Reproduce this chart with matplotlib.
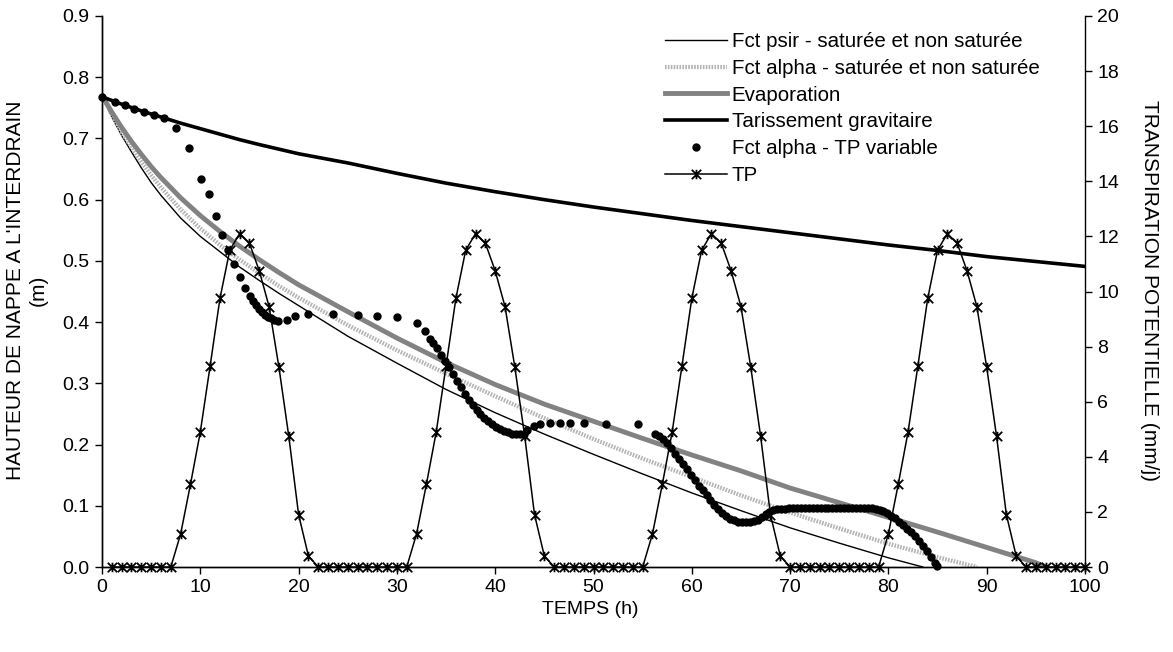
import matplotlib
matplotlib.use("Agg")
import matplotlib.pyplot as plt
import matplotlib.patheffects as pe
from matplotlib.path import Path

plt.rcParams['font.family'] = ['Liberation Sans', 'DejaVu Sans']

# --- hauteur de nappe (m) ---
t_psir = [0, 1, 2, 3, 4, 5, 6, 8, 10, 12, 14, 16, 18, 20, 25, 30, 35, 40, 45, 50,
          55, 60, 65, 70, 75, 80, 83.5]
h_psir = [0.77, 0.735, 0.705, 0.678, 0.652, 0.628, 0.607, 0.57, 0.54, 0.515, 0.49,
          0.468, 0.447, 0.427, 0.377, 0.333, 0.29, 0.252, 0.217, 0.184, 0.152, 0.121,
          0.092, 0.064, 0.039, 0.015, 0.0]

t_alpha = [0, 1, 2, 3, 4, 5, 6, 8, 10, 12, 14, 16, 18, 20, 25, 30, 35, 40, 45, 50,
           55, 60, 65, 70, 75, 80, 85, 89]
h_alpha = [0.77, 0.739, 0.711, 0.686, 0.662, 0.64, 0.62, 0.584, 0.553, 0.526, 0.502,
           0.48, 0.459, 0.44, 0.395, 0.354, 0.316, 0.279, 0.243, 0.209, 0.177, 0.147,
           0.117, 0.089, 0.063, 0.038, 0.016, 0.0]

t_evap = [0, 1, 2, 3, 4, 5, 6, 8, 10, 12, 14, 16, 18, 20, 25, 30, 35, 40, 45, 50,
          55, 60, 65, 70, 75, 80, 85, 90, 95, 96]
h_evap = [0.77, 0.743, 0.718, 0.695, 0.674, 0.654, 0.636, 0.603, 0.574, 0.548, 0.524,
          0.502, 0.481, 0.461, 0.417, 0.374, 0.334, 0.298, 0.266, 0.238, 0.21, 0.183,
          0.157, 0.129, 0.105, 0.081, 0.057, 0.032, 0.007, 0.0]

t_tar = [0, 2, 4, 6, 8, 10, 12, 14, 16, 20, 25, 30, 35, 40, 45, 50, 55, 60, 65, 70,
         75, 80, 85, 90, 95, 100]
h_tar = [0.768, 0.756, 0.745, 0.735, 0.725, 0.716, 0.707, 0.698, 0.69, 0.675, 0.66,
         0.643, 0.627, 0.613, 0.6, 0.588, 0.577, 0.566, 0.556, 0.546, 0.536, 0.526,
         0.517, 0.507, 0.499, 0.491]

# Fct alpha - TP variable (points)
t_var = [0, 1.3, 2.3, 3.3, 4.3, 5.3, 6.3, 7.5, 8.9, 10.1, 10.9, 11.6, 12.2, 12.85,
         13.4, 14.0, 14.55, 15.1, 15.4, 15.7, 16.0, 16.3, 16.6, 16.9, 17.2, 17.5,
         17.9, 18.8, 19.6, 21.0, 23.5, 26.0, 28.0, 30.0, 32.0, 32.9, 33.4,
         33.7, 34.1, 34.5, 34.9, 35.3, 35.7, 36.1, 36.5, 36.9, 37.3, 37.7, 38.1,
         38.5, 38.9, 39.3, 39.7, 40.1, 40.5, 40.9, 41.3, 41.7, 42.1, 42.5, 42.9,
         43.2, 43.9, 44.6, 45.6, 46.6, 47.6, 49.0, 51.3, 54.5,
         56.3, 56.7, 57.1, 57.5, 57.9, 58.3, 58.7, 59.1, 59.5, 59.9, 60.3, 60.7,
         61.1, 61.5, 61.9, 62.3, 62.7, 63.1, 63.5, 63.9, 64.3, 64.7, 65.1, 65.5,
         65.9, 66.3, 66.7, 67.1, 67.5, 67.9, 68.3, 68.7, 69.1, 69.5, 69.9, 70.3,
         70.7, 71.1, 71.5, 71.9, 72.3, 72.7, 73.1, 73.5, 73.9, 74.3, 74.7, 75.1,
         75.5, 75.9, 76.3, 76.7, 77.1, 77.5, 77.9, 78.3, 78.7, 79.1, 79.5, 79.9,
         80.3, 80.7, 81.1, 81.5, 81.9, 82.3, 82.7, 83.1, 83.5, 83.9, 84.3, 84.7, 84.9]
h_var = [0.767, 0.76, 0.754, 0.748, 0.743, 0.738, 0.733, 0.717, 0.684, 0.633, 0.609,
         0.573, 0.542, 0.518, 0.495, 0.474, 0.456, 0.442, 0.435, 0.428, 0.421, 0.416,
         0.412, 0.409, 0.406, 0.404, 0.402, 0.404, 0.41, 0.413, 0.414, 0.412, 0.41,
         0.408, 0.399, 0.386, 0.373,
         0.366, 0.357, 0.347, 0.336, 0.326, 0.315, 0.304, 0.294, 0.283, 0.273, 0.264,
         0.256, 0.25, 0.244, 0.238, 0.233, 0.229, 0.225, 0.222, 0.22, 0.218, 0.217,
         0.217, 0.218, 0.224, 0.231, 0.233, 0.235, 0.236, 0.236, 0.235, 0.233, 0.233,
         0.218, 0.214, 0.209, 0.202, 0.194, 0.185, 0.177, 0.169, 0.16, 0.151, 0.142,
         0.133, 0.125, 0.117, 0.11, 0.102, 0.095, 0.089, 0.084, 0.079, 0.076, 0.074,
         0.073, 0.073, 0.073, 0.075, 0.077, 0.081, 0.086, 0.09, 0.093, 0.094, 0.095,
         0.095, 0.096, 0.096, 0.096, 0.096, 0.096, 0.096, 0.096, 0.096, 0.096, 0.096,
         0.096, 0.096, 0.096, 0.096, 0.096, 0.096, 0.096, 0.096, 0.096, 0.096, 0.096,
         0.096, 0.095, 0.093, 0.091, 0.088, 0.084, 0.08, 0.074, 0.068, 0.062, 0.057,
         0.051, 0.043, 0.035, 0.026, 0.017, 0.007, 0.002]

# --- transpiration potentielle (mm/j), pas horaire ---
t_tp = list(range(1, 101))
tp = [0, 0, 0, 0, 0, 0, 0,
      1.2, 3.0, 4.9, 7.3, 9.75, 11.5, 12.1, 11.75, 10.75, 9.45, 7.25, 4.75, 1.9, 0.4,
      0, 0, 0, 0, 0, 0, 0, 0, 0, 0,
      1.2, 3.0, 4.9, 7.3, 9.75, 11.5, 12.1, 11.75, 10.75, 9.45, 7.25, 4.75, 1.9, 0.4,
      0, 0, 0, 0, 0, 0, 0, 0, 0, 0,
      1.2, 3.0, 4.9, 7.3, 9.75, 11.5, 12.1, 11.75, 10.75, 9.45, 7.25, 4.75, 1.9, 0.4,
      0, 0, 0, 0, 0, 0, 0, 0, 0, 0,
      1.2, 3.0, 4.9, 7.3, 9.75, 11.5, 12.1, 11.75, 10.75, 9.45, 7.25, 4.75, 1.9, 0.4,
      0, 0, 0, 0, 0, 0, 0]

labels = ["Fct psir - saturée et non saturée", "Fct alpha - saturée et non saturée",
          "Evaporation", "Tarissement gravitaire", "Fct alpha - TP variable", "TP"]

# marqueur étoile (X + barre verticale) comme excel
star = Path([(-1, -1), (1, 1), (-1, 1), (1, -1), (0, -1), (0, 1)],
            [Path.MOVETO, Path.LINETO] * 3)

W, H = 1173, 652
fig = plt.figure(figsize=(W / 100, H / 100), dpi=100)
ax = fig.add_axes([102 / W, 1 - 567 / H, (1085 - 102) / W, (567 - 16) / H])
ax2 = ax.twinx()

l1, = ax.plot(t_psir, h_psir, color='black', lw=1.0)
l2, = ax.plot(t_alpha, h_alpha, color='#b4b4b4', lw=3.0, dashes=(0.35, 0.35),
              path_effects=[pe.Stroke(linewidth=3.0, foreground='#d8d8d8'), pe.Normal()])
l3, = ax.plot(t_evap, h_evap, color='#828282', lw=3.5)
l4, = ax.plot(t_tar, h_tar, color='black', lw=2.6)
l5, = ax.plot(t_var, h_var, ls='none', marker='o', ms=5, color='black', clip_on=False)
l6, = ax2.plot(t_tp, tp, color='black', lw=1.1, marker=star, ms=6.8, mew=1.3,
               mfc='none', clip_on=False)

ax.set_xlim(0, 100)
ax.set_ylim(0, 0.9)
ax2.set_ylim(0, 20)
ax.set_xticks(range(0, 101, 10))
ax.set_yticks([i / 10 for i in range(10)])
ax.set_yticklabels([f"{i / 10:.1f}" for i in range(10)])
ax2.set_yticks(range(0, 21, 2))

for a in (ax, ax2):
    a.spines['top'].set_visible(False)
    for s in ('left', 'right', 'bottom'):
        a.spines[s].set_linewidth(1.0)
    a.tick_params(direction='out', length=5, width=1.0, labelsize=14, pad=4)
ax.spines['right'].set_visible(False)

fig.text(27 / W, 1 - 290 / H, "HAUTEUR DE NAPPE A L'INTERDRAIN\n(m)", rotation=90,
         ha='center', va='center', fontsize=15, multialignment='center',
         linespacing=1.2)
fig.text(1150 / W, 1 - 290 / H, "TRANSPIRATION POTENTIELLE (mm/j)", rotation=-90,
         ha='center', va='center', fontsize=15)
fig.text(590 / W, 1 - 610 / H, "TEMPS (h)", ha='center', va='center', fontsize=14)

ax2.legend([l1, l2, l3, l4, l5, l6], labels, loc='upper left',
           bbox_to_anchor=(665 / W, 1 - 32 / H), bbox_transform=fig.transFigure,
           frameon=False, fontsize=14.8, handlelength=3.0, handletextpad=0.25,
           labelspacing=0.38, borderpad=0, borderaxespad=0, numpoints=1)

fig.savefig("out.png", dpi=100)
